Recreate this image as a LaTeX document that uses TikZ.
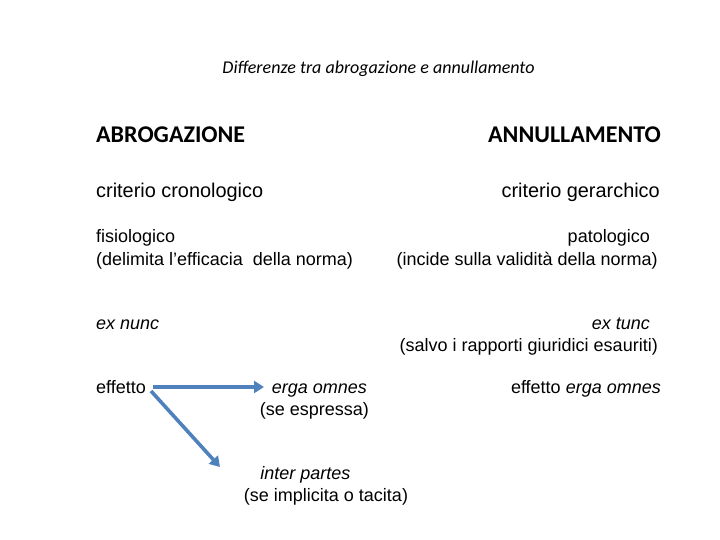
\documentclass[tikz,border=0pt]{standalone}
\usepackage{fontspec}
\setmainfont{Liberation Sans}
\newfontfamily\calib{Carlito}
\usetikzlibrary{arrows.meta}
\definecolor{arrowblue}{HTML}{4F81BD}
\begin{document}
\begin{tikzpicture}[x=1pt,y=-1pt,
  txt/.style={inner sep=0pt, font=\fontsize{18}{22}\selectfont},
  bigtxt/.style={inner sep=0pt, font=\fontsize{19.9}{22}\selectfont},
  head/.style={inner sep=0pt, font=\calib\bfseries\fontsize{24}{26}\selectfont},
  conn/.style={draw=arrowblue, line width=3.6pt, -{Triangle[length=10pt,width=12pt]}}]
\useasboundingbox (0,0) rectangle (720,540);
\node[inner sep=0pt, font=\calib\itshape\fontsize{18}{20}\selectfont, anchor=base] (title) at (378.5,74) {Differenze tra abrogazione e annullamento};
\node[head, anchor=base west] (abr) at (96,143) {ABROGAZIONE};
\node[head, anchor=base east] (ann) at (661,143) {ANNULLAMENTO};
\node[bigtxt, anchor=base west] (crono) at (96,197) {criterio cronologico};
\node[bigtxt, anchor=base east] (gerar) at (660,197) {criterio gerarchico};
\node[txt, anchor=base west] (fisio) at (96,243) {fisiologico};
\node[txt, anchor=base west] (delim) at (96,265) {(delimita l’efficacia\ \ della norma)};
\node[txt, anchor=base east] (pato) at (650,243) {patologico};
\node[txt, anchor=base east] (incide) at (658,265) {(incide sulla validità della norma)};
\node[txt, anchor=base west] (nunc) at (96,329) {\itshape ex nunc};
\node[txt, anchor=base east] (tunc) at (650,329) {\itshape ex tunc};
\node[txt, anchor=base east] (salvo) at (658,351) {(salvo i rapporti giuridici esauriti)};
\node[txt, anchor=base west] (eff) at (96,393) {effetto};
\node[txt, anchor=base] (erga) at (319.5,393) {\itshape erga omnes};
\node[txt, anchor=base] (espr) at (314.5,415) {(se espressa)};
\node[txt, anchor=base east] (effr) at (661,393) {effetto \textit{erga omnes}};
\node[txt, anchor=base] (inter) at (305.5,479) {\itshape inter partes};
\node[txt, anchor=base] (impl) at (326,501) {(se implicita o tacita)};
\coordinate (a1s) at (153,387);
\coordinate (a1e) at (264,387);
\coordinate (a2s) at (151,391);
\coordinate (a2e) at (220,467);
\draw[conn] (a1s) -- (a1e);
\draw[conn] (a2s) -- (a2e);
\end{tikzpicture}
\end{document}
